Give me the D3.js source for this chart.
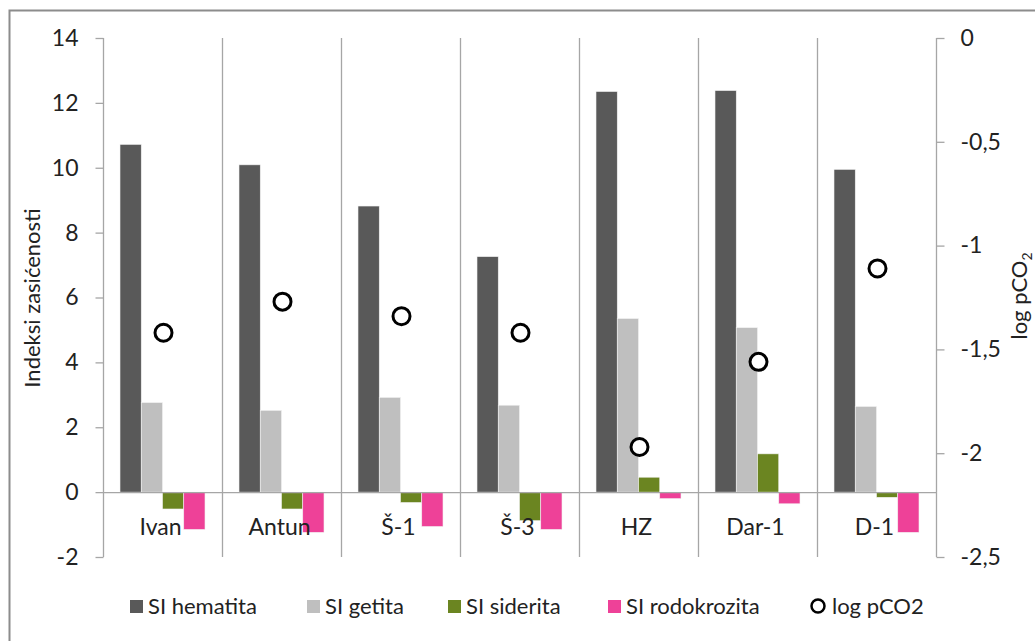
<!DOCTYPE html>
<html>
<head>
<meta charset="utf-8">
<script src="https://cdn.jsdelivr.net/npm/d3@7"></script>
<style>
  body { margin: 0; background: #fff; }
  text { font-family: Lato, "Open Sans", sans-serif; fill: #222; }
</style>
</head>
<body>
<div id="chart"></div>
<script>
var categories = ["Ivan", "Antun", "Š-1", "Š-3", "HZ", "Dar-1", "D-1"];
var hematita = [10.72, 10.09, 8.82, 7.26, 12.35, 12.38, 9.95];
var getita = [2.76, 2.52, 2.92, 2.68, 5.35, 5.07, 2.64];
var siderita = [-0.52, -0.52, -0.32, -0.88, 0.46, 1.18, -0.16];
var rodokrozita = [-1.15, -1.24, -1.06, -1.15, -0.2, -0.36, -1.24];
var logpCO2 = [-1.42, -1.27, -1.34, -1.42, -1.97, -1.56, -1.11];
var seriesNames = ["SI hematita", "SI getita", "SI siderita", "SI rodokrozita"];
var colors = ["#595959", "#bfbfbf", "#6b8521", "#ee4198"];
var leftTicks = [-2, 0, 2, 4, 6, 8, 10, 12, 14];
var rightTicks = [0, -0.5, -1, -1.5, -2, -2.5];

var series = [hematita, getita, siderita, rodokrozita];

var width = 1035, height = 641;
var svg = d3.select("#chart").append("svg")
  .attr("width", width)
  .attr("height", height);

// outer frame
svg.append("rect")
  .attr("x", 9.5)
  .attr("y", 10.5)
  .attr("width", 1040)
  .attr("height", 650)
  .attr("fill", "none")
  .attr("stroke", "#8c8c8c")
  .attr("stroke-width", 2);

var plotLeft = 103, plotRight = 936, plotTop = 38, plotBottom = 557;

var x = d3.scaleBand()
  .domain(categories)
  .range([plotLeft, plotRight]);

var xInner = d3.scaleBand()
  .domain(d3.range(4))
  .range([0, x.bandwidth()])
  .paddingOuter(0.8);

var y = d3.scaleLinear()
  .domain([-2, 14])
  .range([plotBottom, plotTop]);

var y2 = d3.scaleLinear()
  .domain([-2.5, 0])
  .range([plotBottom, plotTop]);

// category dividers
svg.selectAll(".divider")
  .data(categories.slice(1))
  .enter()
  .append("line")
  .attr("x1", function(d){ return Math.round(x(d)) + 0.5; })
  .attr("x2", function(d){ return Math.round(x(d)) + 0.5; })
  .attr("y1", plotTop)
  .attr("y2", plotBottom)
  .attr("stroke", "#a6a6a6")
  .attr("stroke-width", 1.3);

// bars
series.forEach(function(vals, s){
  svg.selectAll(".bar" + s)
    .data(vals)
    .enter()
    .append("rect")
    .attr("x", function(d, i){ return x(categories[i]) + xInner(s); })
    .attr("y", function(d){ return y(Math.max(0, d)); })
    .attr("width", xInner.bandwidth())
    .attr("height", function(d){ return Math.abs(y(d) - y(0)); })
    .attr("fill", colors[s])
    .attr("stroke", "#f2f2f2")
    .attr("stroke-width", 0.6);
});

// zero line
svg.append("line")
  .attr("x1", plotLeft)
  .attr("x2", plotRight)
  .attr("y1", y(0) + 0.5)
  .attr("y2", y(0) + 0.5)
  .attr("stroke", "#a6a6a6")
  .attr("stroke-width", 1.3);

// tick labels use a plain hyphen and decimal comma
var fmt = function(d){ return String(d).replace(".", ","); };

// left axis
var gL = svg.append("g")
  .attr("transform", "translate(" + (plotLeft + 0.5) + ",0)")
  .call(d3.axisLeft(y).tickValues(leftTicks).tickSize(8).tickPadding(17).tickFormat(fmt));
gL.selectAll("path, line").attr("stroke", "#a6a6a6").attr("stroke-width", 1.3);
gL.select(".domain").attr("d", "M0," + plotTop + "V" + plotBottom);
gL.selectAll("text").style("font-size", "23px").style("font-family", "Lato, sans-serif").attr("fill", "#222");

// right axis
var gR = svg.append("g")
  .attr("transform", "translate(" + (plotRight + 0.5) + ",0)")
  .call(d3.axisRight(y2).tickValues(rightTicks).tickSize(8).tickPadding(16).tickFormat(fmt));
gR.selectAll("path, line").attr("stroke", "#a6a6a6").attr("stroke-width", 1.3);
gR.select(".domain").attr("d", "M0," + plotTop + "V" + plotBottom);
gR.selectAll("text").style("font-size", "23px").style("font-family", "Lato, sans-serif").attr("fill", "#222");

// category labels
svg.selectAll(".cat")
  .data(categories)
  .enter()
  .append("text")
  .attr("x", function(d){ return x(d) + x.bandwidth() / 2 - 2; })
  .attr("y", 535)
  .attr("text-anchor", "middle")
  .style("font-size", "23px")
  .text(function(d){ return d; });

// log pCO2 markers
svg.selectAll(".pco2")
  .data(logpCO2)
  .enter()
  .append("circle")
  .attr("cx", function(d, i){ return x(categories[i]) + x.bandwidth() / 2 + 1; })
  .attr("cy", function(d){ return y2(d); })
  .attr("r", 8.5)
  .attr("fill", "#fff")
  .attr("stroke", "#000")
  .attr("stroke-width", 3);

// axis titles
svg.append("text")
  .attr("transform", "translate(40,298) rotate(-90)")
  .attr("text-anchor", "middle")
  .style("font-size", "22px")
  .text("Indeksi zasićenosti");

var t2 = svg.append("text")
  .attr("transform", "translate(1027,296) rotate(-90)")
  .attr("text-anchor", "middle")
  .style("font-size", "22px");
t2.append("tspan").text("log pCO");
t2.append("tspan").attr("dy", 5).style("font-size", "14px").text("2");

// legend
var legendX = [130, 307, 448, 608];
var legendY = 606;
seriesNames.forEach(function(name, s){
  svg.append("rect")
    .attr("x", legendX[s])
    .attr("y", legendY - 6)
    .attr("width", 13)
    .attr("height", 13)
    .attr("fill", colors[s]);
  svg.append("text")
    .attr("x", legendX[s] + 18)
    .attr("y", legendY + 8)
    .style("font-size", "22px")
    .text(name);
});
svg.append("circle")
  .attr("cx", 818)
  .attr("cy", legendY)
  .attr("r", 6.5)
  .attr("fill", "#fff")
  .attr("stroke", "#000")
  .attr("stroke-width", 2.5);
svg.append("text")
  .attr("x", 832)
  .attr("y", legendY + 8)
  .style("font-size", "22px")
  .text("log pCO2");
</script>
</body>
</html>
